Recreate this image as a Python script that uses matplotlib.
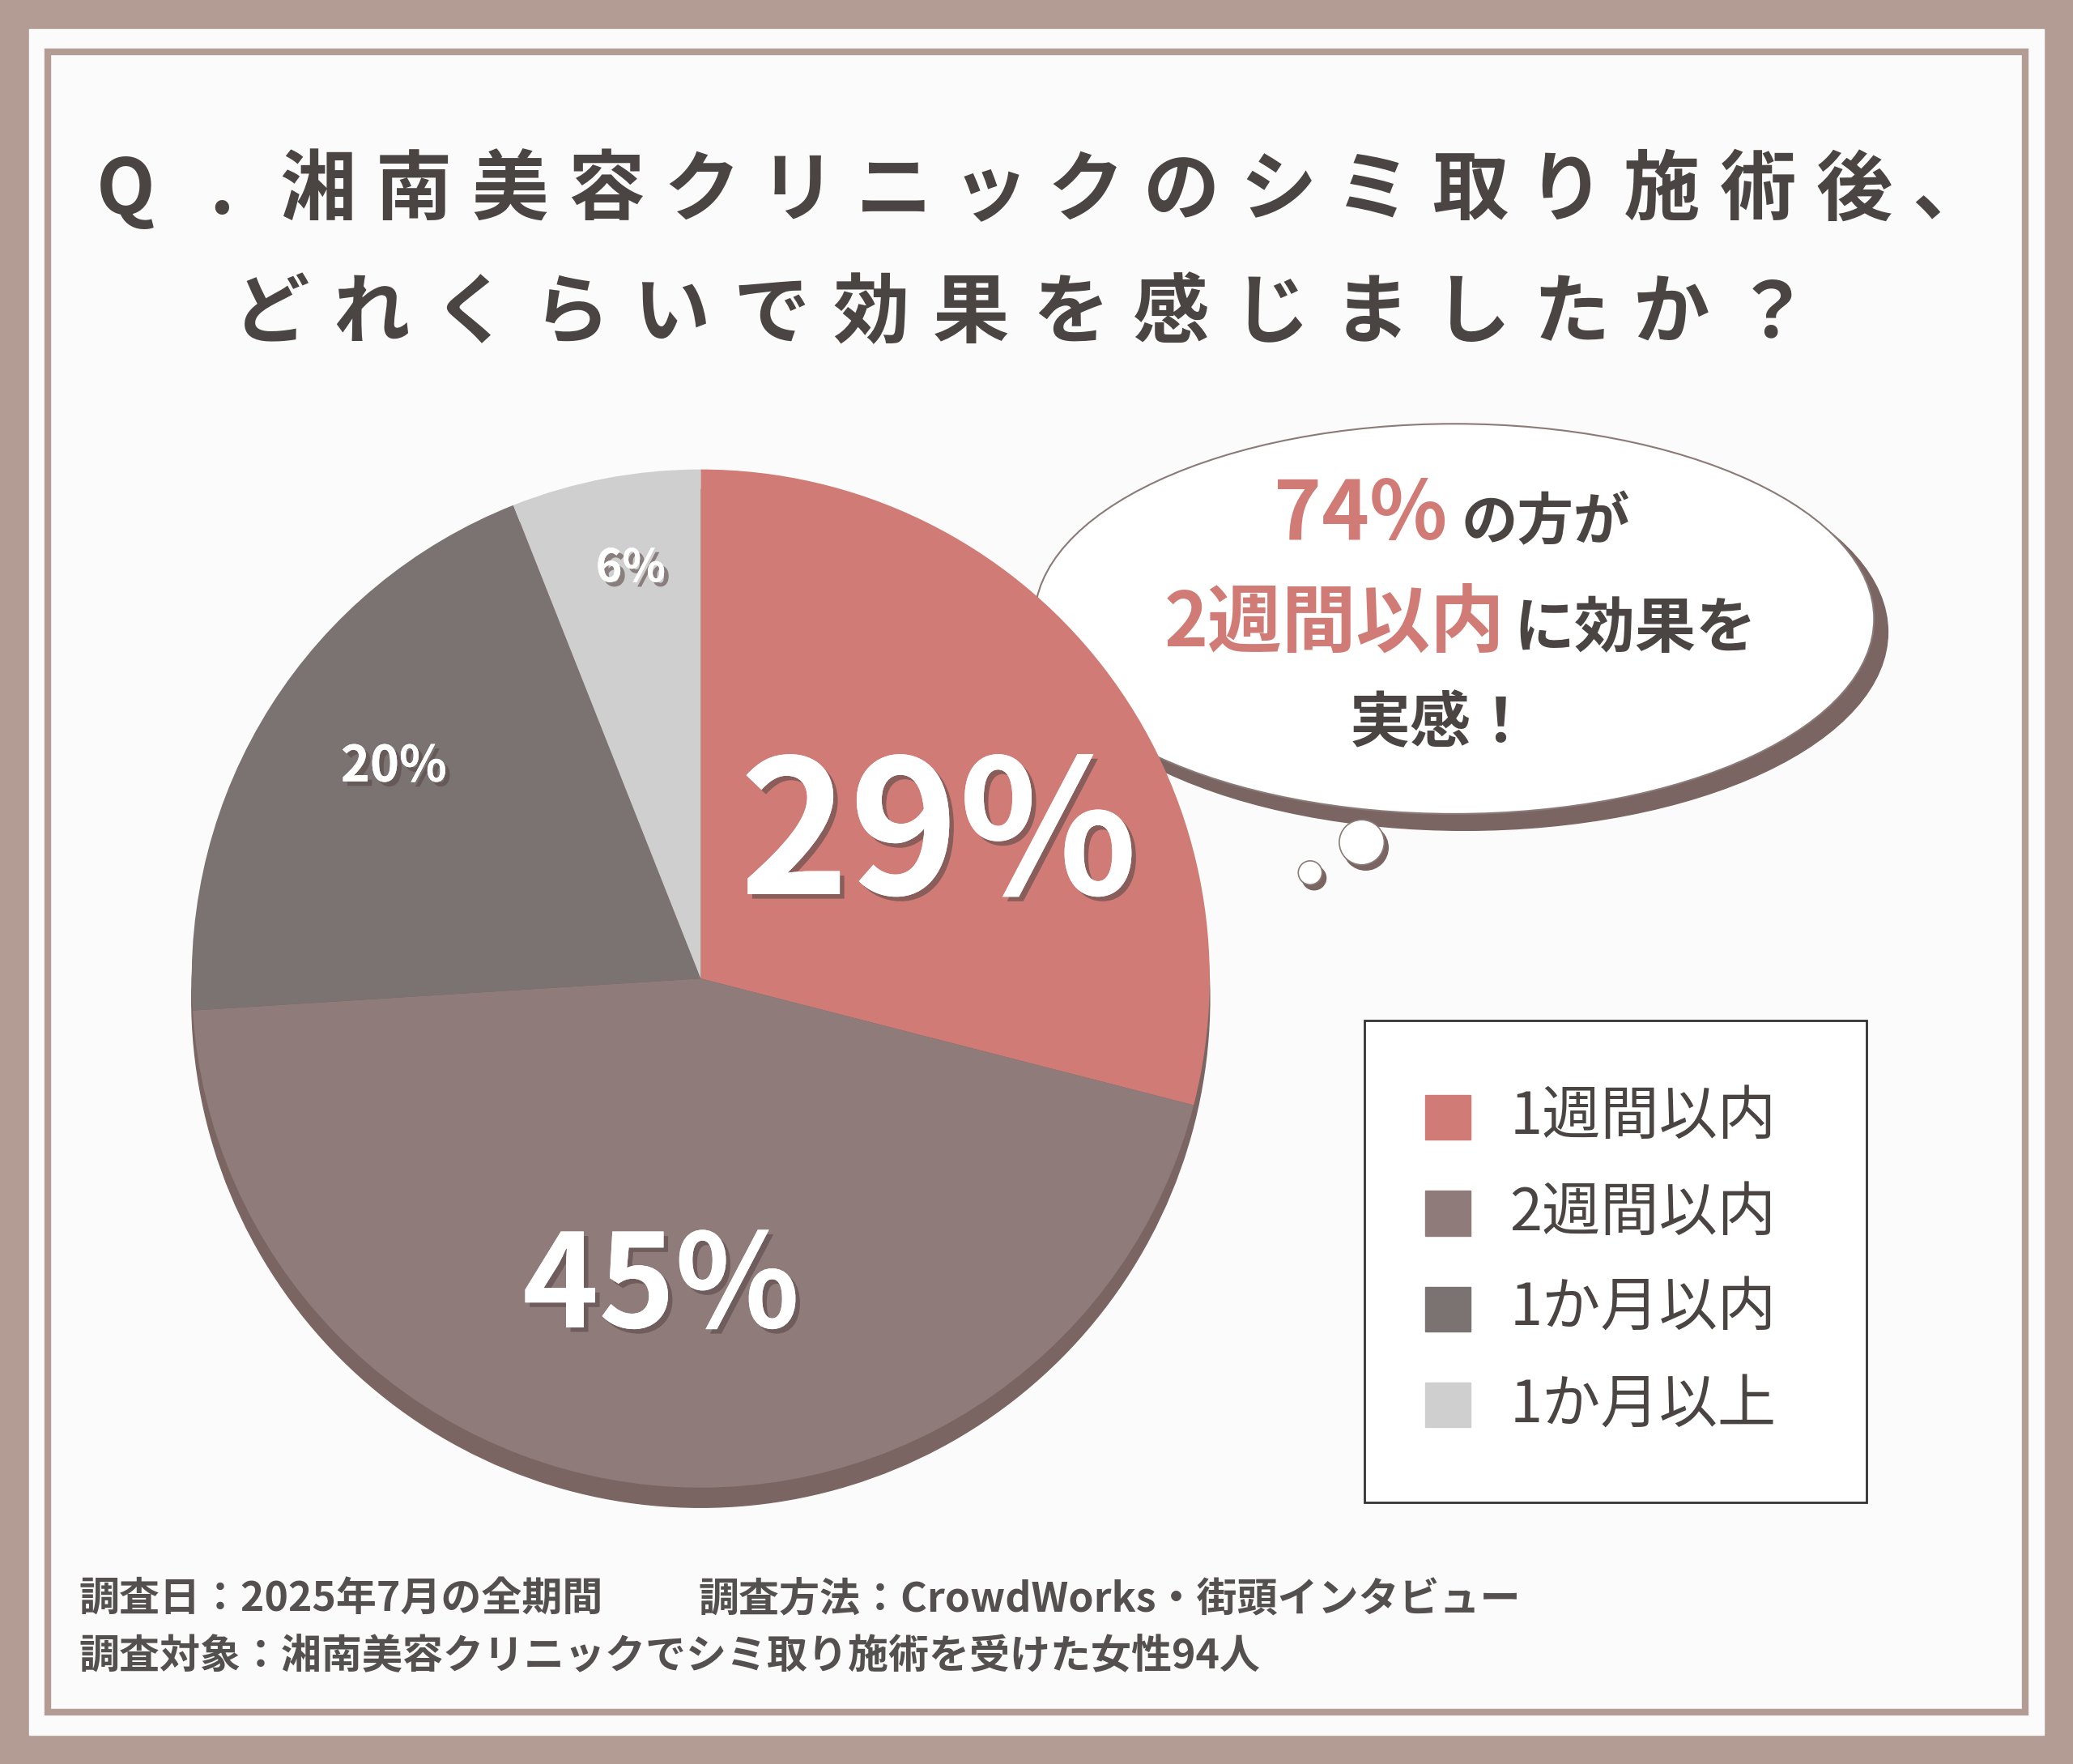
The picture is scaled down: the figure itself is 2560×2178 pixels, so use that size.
import matplotlib
matplotlib.use("Agg")
import matplotlib.pyplot as plt
from matplotlib.patches import Rectangle, Ellipse, Circle
import matplotlib.patheffects as pe

categories = ["1週間以内", "2週間以内", "1か月以内", "1か月以上"]
values = [29, 45, 20, 6]
colors = ["#d07b76", "#8e7b7a", "#7a7371", "#cfcfcf"]
title_lines = ["Q.湘南美容クリニックのシミ取り施術後、", "どれくらいで効果を感じましたか？"]
footer1a = "調査日：2025年7月の全期間"
footer1b = "調査方法：CrowdWorks・街頭インタビュー"
footer2 = "調査対象：湘南美容クリニックでシミ取り施術を受けた女性94人"

FONT = "Noto Sans CJK JP"
plt.rcParams["font.family"] = FONT
DARK = "#4a4442"
PINK = "#d07b76"
W, H = 1568, 1334

fig = plt.figure(figsize=(25.6, 21.78), dpi=100)
ax = fig.add_axes([0, 0, 1, 1])
ax.set_xlim(0, W); ax.set_ylim(H, 0); ax.axis("off")

ax.add_patch(Rectangle((0, 0), W, H, color="#b39c94", zorder=0))
ax.add_patch(Rectangle((22, 22), W - 44, H - 44, color="#fbfbfb", zorder=1))
ax.add_patch(Rectangle((36, 39), W - 72, H - 78, fill=False, ec="#b39c94", lw=6, zorder=2))

# title with letter spacing
for line, (x0, x1, y) in zip(title_lines, [(95, 1475, 145), (205, 1340, 238)]):
    n = len(line)
    step = (x1 - x0) / (n - 1)
    for i, ch in enumerate(line):
        ax.text(x0 + i * step, y, ch, ha="center", va="center", fontsize=68,
                fontweight="bold", color=DARK, zorder=5)

# pie shadow
ax.add_patch(Circle((530, 755), 385, color="#7a6562", zorder=3))

cx, cy, r = 530, 740, 385
pax = fig.add_axes([(cx - r) / W, 1 - (cy + r) / H, 2 * r / W, 2 * r / H])
pax.set_zorder(4)
pax.pie(values, colors=colors, startangle=90, counterclock=False, radius=1,
        wedgeprops=dict(linewidth=0))
pax.set_xlim(-1, 1); pax.set_ylim(-1, 1); pax.axis("off")

shadow = [pe.withSimplePatchShadow(offset=(4, -4), shadow_rgbFace="#5a4a48", alpha=0.6), pe.Normal()]
lbl = [("%d%%" % values[0], 710, 635, 165), ("%d%%" % values[1], 500, 975, 115),
       ("%d%%" % values[2], 298, 580, 44), ("%d%%" % values[3], 477, 430, 40)]
for t, x, y, s in lbl:
    pax.text(x, y, t, transform=ax.transData, ha="center", va="center", fontsize=s,
             fontweight="bold", color="white", path_effects=shadow, zorder=6)

# speech bubble
ax.add_patch(Ellipse((1108, 478), 640, 300, color="#7a6562", zorder=4))
ax.add_patch(Ellipse((1100, 468), 635, 295, fc="white", ec="#8a7a78", lw=1.5, zorder=5))
for (x, y, rr) in [(1030, 637, 17), (991, 660, 9)]:
    ax.add_patch(Circle((x + 3, y + 4), rr, color="#7a6562", zorder=4))
    ax.add_patch(Circle((x, y), rr, fc="white", ec="#8a7a78", lw=1.2, zorder=5))

ax.text(1095, 390, "74%", ha="right", va="center", fontsize=72, fontweight="bold", color=PINK, zorder=6)
ax.text(1105, 396, "の方が", ha="left", va="center", fontsize=50, fontweight="bold", color=DARK, zorder=6)
ax.text(1138, 472, "2週間以内", ha="right", va="center", fontsize=66, fontweight="bold", color=PINK, zorder=6)
ax.text(1145, 476, "に効果を", ha="left", va="center", fontsize=54, fontweight="bold", color=DARK, zorder=6)
ax.text(1090, 548, "実感！", ha="center", va="center", fontsize=54, fontweight="bold", color=DARK, zorder=6)

# legend
ax.add_patch(Rectangle((1032, 772), 380, 364, fc="white", ec="#333333", lw=2, zorder=5))
for i, (c, col) in enumerate(zip(categories, colors)):
    y = 845 + i * 72.5
    ax.add_patch(Rectangle((1078, y - 17), 34, 34, color=col, zorder=6))
    ax.text(1142, y, c, ha="left", va="center", fontsize=52, color=DARK, zorder=6)

ax.text(60, 1210, footer1a, ha="left", va="center", fontsize=36, fontweight="bold", color="#555050", zorder=6)
ax.text(528, 1210, footer1b, ha="left", va="center", fontsize=36, fontweight="bold", color="#555050", zorder=6)
ax.text(60, 1253, footer2, ha="left", va="center", fontsize=36, fontweight="bold", color="#555050", zorder=6)

fig.savefig("out.png", dpi=100)
